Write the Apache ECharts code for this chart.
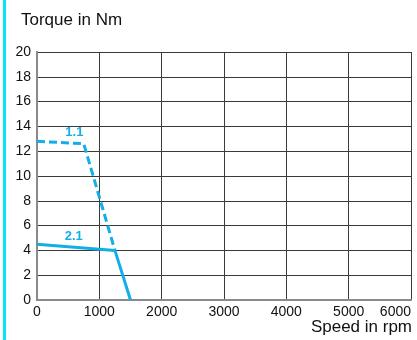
<!DOCTYPE html>
<html>
<head>
<meta charset="utf-8">
<script src="https://cdn.jsdelivr.net/npm/echarts@6/dist/echarts.min.js"></script>
<style>
  html, body { margin: 0; padding: 0; background: #fff; }
  #chart { width: 417px; height: 340px; }
</style>
</head>
<body>
<div id="chart"></div>
<script>
// data
const curve11 = [[0, 12.8], [750, 12.6], [1250, 4.0]]
const curve21 = [[0, 4.5], [1250, 4.0], [1500, 0]]
const xTicks = [0, 1000, 2000, 3000, 4000, 5000, 6000]
const yTicks = [0, 2, 4, 6, 8, 10, 12, 14, 16, 18, 20]
const labelPos11 = [600, 13.5]
const labelPos21 = [590, 5.1]

const blue = '#12aee8'
const font = 'Liberation Sans, Arial, sans-serif'

const chart = echarts.init(document.getElementById('chart'))

// only the outer frame line, no labels
const frameAxis = {
  type: 'value',
  axisLine: { show: true, lineStyle: { color: '#8a8a8a', width: 2 } },
  axisTick: { show: false },
  axisLabel: { show: false },
  splitLine: { show: false }
}

function markLabel (pos, text) {
  return {
    symbol: 'circle', symbolSize: 1,
    itemStyle: { color: 'transparent' },
    data: [{ coord: pos }],
    label: { show: true, formatter: text, color: blue, fontWeight: 'bold', fontSize: 13, position: 'inside' }
  }
}

chart.setOption({
  animation: false,
  textStyle: { fontFamily: font },
  graphic: [
    // cyan bar down the left edge
    { type: 'rect', left: 3, top: 0, shape: { width: 3, height: 340 }, style: { fill: '#00e6f2' } },
    { type: 'text', left: 21, top: 12, style: { text: 'Torque in Nm', font: '17px ' + font, fill: '#111' } },
    { type: 'text', right: 5, top: 319, style: { text: 'Speed in rpm', font: '17px ' + font, fill: '#111' } }
  ],
  grid: { left: 37, right: 6, top: 52, bottom: 40 },
  xAxis: [{
    type: 'value',
    min: xTicks[0],
    max: xTicks[xTicks.length - 1],
    interval: 1000,
    axisLine: { show: true, lineStyle: { color: '#8a8a8a', width: 2 } },
    axisTick: { show: false },
    axisLabel: { color: '#111', fontSize: 14, margin: 5, alignMaxLabel: 'right', formatter: v => String(v) },
    splitLine: { show: true, lineStyle: { color: '#3a3a3a', width: 1 } }
  }, Object.assign({ position: 'top', min: 0, max: 6000 }, frameAxis)],
  yAxis: [{
    type: 'value',
    min: yTicks[0],
    max: yTicks[yTicks.length - 1],
    interval: 2,
    axisLine: { show: true, lineStyle: { color: '#8a8a8a', width: 2 } },
    axisTick: { show: false },
    axisLabel: { color: '#111', fontSize: 14, margin: 6 },
    splitLine: { show: true, lineStyle: { color: '#3a3a3a', width: 1 } }
  }, Object.assign({ position: 'right', min: 0, max: 20 }, frameAxis)],
  series: [
    {
      name: '1.1',
      type: 'line',
      data: curve11,
      symbol: 'none',
      lineStyle: { color: blue, width: 3, type: [8, 4] },
      markPoint: markLabel(labelPos11, '1.1')
    },
    {
      name: '2.1',
      type: 'line',
      data: curve21,
      symbol: 'none',
      lineStyle: { color: blue, width: 3 },
      markPoint: markLabel(labelPos21, '2.1')
    }
  ]
})
</script>
</body>
</html>
